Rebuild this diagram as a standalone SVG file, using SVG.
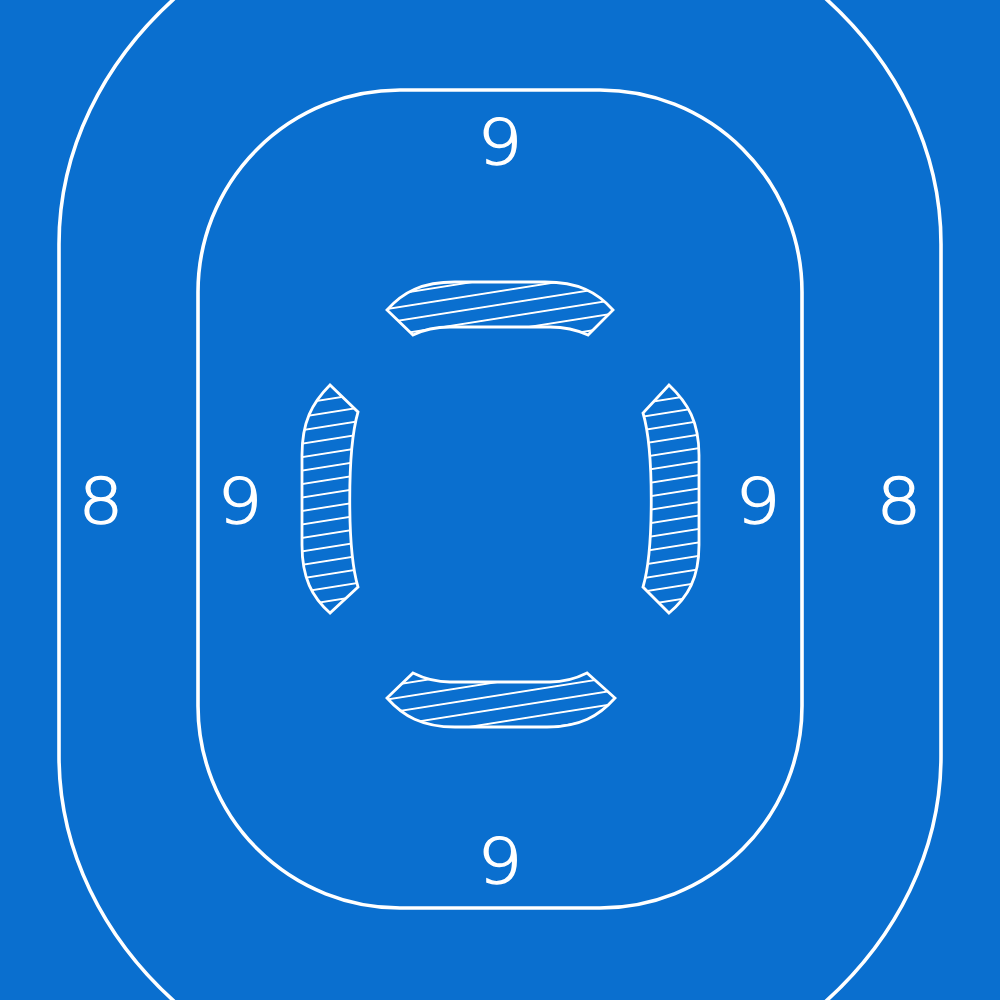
<svg xmlns="http://www.w3.org/2000/svg" width="1000" height="1000" viewBox="0 0 1000 1000">
  <style>
    .track { fill: none; stroke: #ffffff; stroke-width: 3.6; }
    .stand { fill: url(#hatch); stroke: #ffffff; stroke-width: 2.8; stroke-linejoin: miter; }
    .num { font-family: "DejaVu Sans", "Liberation Sans", sans-serif; font-size: 63px; font-weight: 200; fill: #ffffff; stroke: #ffffff; stroke-width: 1.3; text-anchor: middle; }
  </style>
  <defs>
    <pattern id="hatch" patternUnits="userSpaceOnUse" width="40" height="13.3" patternTransform="rotate(-9)">
      <line x1="-5" y1="6.6" x2="45" y2="6.6" stroke="#ffffff" stroke-width="1.9"/>
    </pattern>
  </defs>
  <rect x="0" y="0" width="1000" height="1000" fill="#0a6fcf"/>

  <g id="outer-track">
    <path class="track" d="M 59 244 A 441 364 0 0 1 941 244 L 941 756 A 441 364 0 0 1 59 756 Z"/>
  </g>
  <g id="inner-track">
    <rect class="track" x="198" y="90" width="604" height="818" rx="202" ry="202"/>
  </g>

  <g id="stand-top">
    <path class="stand" d="M 387 310 C 403 292, 422 282, 455 282 L 545 282 C 578 282, 597 292, 613 310 L 588 335 C 575 329, 565 327, 550 327 L 450 327 C 435 327, 425 329, 413 335 Z"/>
  </g>
  <g id="stand-bottom">
    <path class="stand" d="M 387 698 L 413 673 C 425 679, 435 682, 450 682 L 550 682 C 565 682, 575 679, 587 673 L 615 698 C 599 716, 580 727, 547 727 L 455 727 C 422 727, 403 716, 387 698 Z"/>
  </g>
  <g id="stand-left">
    <path class="stand" d="M 330 385 C 312 403, 302 422, 302 455 L 302 545 C 302 578, 312 597, 330 613 L 358 587 C 347 550, 347 450, 358 412 Z"/>
  </g>
  <g id="stand-right">
    <path class="stand" d="M 669 385 C 688 403, 699 422, 699 455 L 699 545 C 699 578, 688 597, 669 613 L 643 587 C 654 550, 654 450, 643 413 Z"/>
  </g>

  <g id="labels">
    <text class="num" transform="translate(500 164) scale(1.12 1)">9</text>
    <text class="num" transform="translate(500 883) scale(1.12 1)">9</text>
    <text class="num" transform="translate(240 523) scale(1.12 1)">9</text>
    <text class="num" transform="translate(758 523) scale(1.12 1)">9</text>
    <text class="num" transform="translate(101 523) scale(1.12 1)">8</text>
    <text class="num" transform="translate(899 523) scale(1.12 1)">8</text>
  </g>
</svg>
